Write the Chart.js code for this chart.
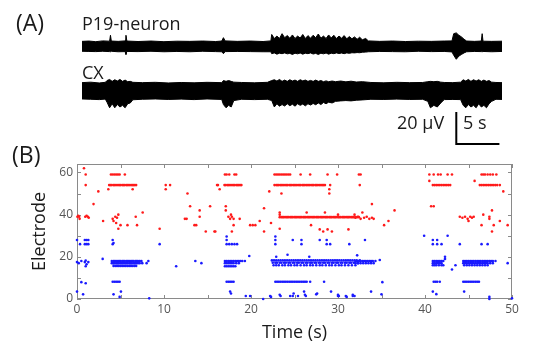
<!DOCTYPE html>
<html>
<head>
<meta charset="utf-8">
<script src="https://cdn.jsdelivr.net/npm/chart.js@4.4.0/dist/chart.umd.min.js"></script>
<style>
  body { margin: 0; background: #fff; }
  #wrap { position: relative; width: 536px; height: 360px; overflow: hidden; font-family: "Open Sans", "Liberation Sans", sans-serif; }
  canvas { position: absolute; }
  .lbl { position: absolute; color: #1a1a1a; white-space: nowrap; line-height: 1; }
</style>
</head>
<body>
<div id="wrap">
  <canvas id="raster" width="536" height="360" style="left:0;top:0;width:536px;height:360px"></canvas>
  <canvas id="traces" width="420" height="130" style="left:82px;top:20px;width:420px;height:130px"></canvas>
  <div class="lbl" style="left:16px;top:11px;font-size:23px">(A)</div>
  <div class="lbl" style="left:12px;top:143px;font-size:23px">(B)</div>
  <div class="lbl" style="left:82px;top:14px;font-size:18px">P19-neuron</div>
  <div class="lbl" style="left:82px;top:63px;font-size:18px">CX</div>
  <div class="lbl" style="left:397px;top:113px;font-size:18px">20 µV</div>
  <div class="lbl" style="left:463px;top:113px;font-size:18px">5 s</div>
</div>
<script>
// ---- panel A: trace envelopes, [time s, up µV, down µV] ----
var p19Trace = [
  [0,3.2,3.0],[0.8,3.4,3.1],[1.6,3.0,3.2],[2.4,3.5,3.0],[3.2,3.3,3.2],[3.3,7.0,3.3],[3.4,3.4,3.0],
  [4.2,3.2,3.3],[5.0,3.5,3.2],[5.1,7.0,5.0],[5.2,3.4,3.1],[6.5,3.1,3.2],[8,3.4,3.0],[9.5,3.0,3.3],
  [11,3.3,3.1],[12.5,3.2,3.3],[14,3.4,3.0],[15.5,3.1,3.2],[16.2,3.4,3.3],[16.4,5.5,4.5],[16.6,3.5,3.2],
  [18,3.2,3.1],[19.5,3.4,3.2],[21,3.1,3.3],[21.9,3.5,3.3],
  [22.0,7.5,4.5],[22.3,5.0,4.0],[22.6,6.5,4.8],[22.9,5.0,4.2],[23.2,8.0,4.5],[23.5,5.5,4.0],[23.8,6.8,4.6],
  [24.1,5.2,4.3],[24.4,7.2,5.0],[24.7,5.0,4.2],[25.0,6.5,4.6],[25.3,5.3,4.1],[25.6,7.5,4.8],[25.9,5.0,4.2],
  [26.2,6.8,4.5],[26.5,5.2,4.0],[26.8,7.0,4.7],[27.1,5.5,4.3],[27.4,7.8,5.0],[27.7,5.2,4.2],[28.0,6.5,4.6],
  [28.3,5.0,4.1],[28.6,7.2,4.8],[28.9,5.3,4.2],[29.2,7.0,4.5],[29.5,5.0,4.0],[29.8,6.5,4.4],[30.1,5.2,4.1],
  [30.4,6.8,4.5],[30.7,4.8,4.0],[31.0,6.2,4.3],[31.3,4.8,3.9],[31.6,6.0,4.0],[31.9,4.5,3.8],[32.2,5.8,3.9],
  [32.5,4.2,3.6],[32.9,5.0,3.5],[33.2,3.5,3.3],
  [34.5,3.2,3.1],[36,3.4,3.2],[37.5,3.1,3.3],[39,3.3,3.0],[40.5,3.2,3.2],[42,3.4,3.1],[42.9,3.5,3.4],
  [43.1,8.0,5.5],[43.4,8.5,8.0],[43.7,7.0,6.0],[44.0,6.0,5.0],[44.3,4.5,4.0],[44.6,3.4,3.3],[45.5,3.2,3.1],
  [46.3,3.4,3.2],[46.4,8.0,3.3],[46.5,3.3,3.1],[47.5,3.2,3.3],[48.7,3.3,3.1]
];
var cxTrace = [
  [0,5.2,5.0],[1,5.5,5.2],[2,5.0,5.4],[2.7,5.4,5.1],[2.9,6.5,7.0],[3.2,7.2,10.5],[3.5,6.0,8.0],[3.8,7.0,10.5],
  [4.1,6.2,8.5],[4.4,7.2,10.0],[4.7,6.0,9.0],[5.0,6.8,10.5],[5.3,5.8,8.0],[5.6,6.0,7.5],[5.9,5.4,5.5],
  [7,5.2,5.2],[8.5,5.4,5.0],[10,5.0,5.3],[11.5,5.3,5.1],[13,5.1,5.4],[14.5,5.4,5.0],[16.2,5.2,5.3],
  [16.4,6.5,8.5],[16.7,6.0,10.5],[17.0,6.5,9.0],[17.3,6.0,10.0],[17.6,5.5,6.0],[18.5,5.3,5.2],[20,5.1,5.4],
  [21.5,5.4,5.2],[22.0,6.5,6.0],[22.3,7.0,10.0],[22.6,6.2,8.0],[22.9,7.2,9.5],[23.2,6.0,8.5],[23.5,6.8,9.4],
  [23.8,6.0,8.0],[24.1,7.0,9.2],[24.4,6.2,8.3],[24.7,6.8,9.5],[25.0,6.0,8.0],[25.3,7.0,9.0],[25.6,6.3,8.2],
  [25.9,6.8,9.3],[26.2,6.0,8.0],[26.5,6.6,8.8],[26.8,6.0,7.8],[27.1,6.8,8.6],[27.4,6.0,7.5],[27.7,6.5,8.5],
  [28.0,5.8,7.2],[28.3,6.3,8.0],[28.6,5.8,7.0],[29.0,6.2,7.5],[29.4,5.8,6.5],[30,6.2,6.2],[30.6,5.7,6.0],
  [31.2,6.1,6.2],[31.8,5.6,5.8],[32.5,5.8,5.6],[33.5,5.3,5.2],[35,5.1,5.3],[36.5,5.4,5.1],[38,5.2,5.3],
  [39.5,5.3,5.2],[40.1,5.8,6.5],[40.4,6.0,10.5],[40.8,5.8,9.0],[41.2,6.0,10.0],[41.6,5.5,7.5],[42.0,5.3,5.4],
  [43,5.2,5.3],[43.9,5.5,5.4],[44.2,7.0,9.0],[44.5,6.2,10.5],[44.8,7.2,8.5],[45.1,6.0,10.0],[45.4,7.0,9.0],
  [45.7,6.2,10.5],[46.0,7.0,8.0],[46.3,6.0,10.0],[46.6,6.8,9.0],[46.9,6.0,10.5],[47.2,6.5,8.0],[47.5,5.5,6.5],
  [48.0,5.3,5.2],[48.7,5.2,5.3]
];
var scaleBarSec = 5;
var scaleBarMicroV = 20;

// ---- panel B: raster, [time s, electrode] ----
var redDots = [
  [0.8,62],[1.0,59],[1.0,54],[1.9,45],[2.45,51],[0.05,39],[0.15,39.5],[0.25,39],[0.3,38],[0.95,39],[1.1,39.5],
  [1.25,39],[1.35,38.5],[3.0,37],[3.9,59],[4.1,59],[4.3,59],[4.5,59],[4.7,59],[4.9,59],[5.5,59],[3.6,52],[6.4,52],
  [4.1,38],[4.2,37],[4.4,39],[4.6,38.5],[4.75,40],[4.5,36],[4.75,33.3],[5.0,35],[5.8,35],[6.75,39],[6.9,35],
  [7.55,41],[9.5,33.3],[10.2,54],[10.7,54],[10.2,52],[12.7,50],[12.4,38],[12.6,38],[13.0,44],[13.5,35],[13.7,35],
  [14.1,42],[14.1,39],[14.8,32],[15.3,44],[15.8,32],[16.2,54],
  [17.0,59],[17.2,59],[17.5,59],[18.1,59],[18.3,59],[16.1,54],[16.4,52],[17.1,44],[17.1,42],[17.4,39],[17.6,38],
  [17.8,39],[18.0,38],[17.7,40],[18.7,38],[18.0,35],[15.9,32],[17.8,32],[19.9,35],[20.2,35],[20.5,35],[21.0,37],
  [21.5,43],[21.5,32],[22.1,51],[22.3,36],[22.7,59],[22.9,59],[23.1,59],[23.3,59],[23.5,59],[23.7,59],[23.9,59],
  [24.1,59],[24.3,59],[24.5,59],[25.7,59],[26.8,59],[28.8,59],[29.9,59],[23.5,50],[29.0,52],[29.0,50],[26.4,41],
  [28.5,41],[30.0,40],[31.9,40],[23.3,40],[23.3,41],[23.3,33.3],[26.9,35],[27.9,33],[28.3,32],[28.8,33],[29.3,32],
  [31.2,33],
  [32.4,59],[32.6,59],[32.5,54],[33.9,45],[32.0,38.5],[32.3,39],[32.6,38],[32.8,41],[33.0,38.5],[33.3,39],[33.6,38],
  [33.9,38.5],[34.1,38],[35.3,35],[35.8,37],[36.5,42],[40.7,44],[41.0,44],[40.5,59],[41.0,59],[41.5,59],[41.8,59],
  [42.6,59],[43.1,59],[40.5,56],[44.0,39],[44.3,38.5],[44.6,39],[44.9,38],[45.2,39],[45.4,38.5],[45.6,39],[45.0,37],
  [46.5,59],[46.7,59],[46.9,59],[47.2,59],[47.5,59],[47.8,59],[48.2,59],[45.7,56],[49.0,51],[46.7,40],[47.4,39],
  [47.4,38],[47.7,42],[46.5,35],[47.9,35],[48.6,37],[47.7,32],[49.5,35]
];
// dense rows: [electrode, times]
var redRows = [
  [54, [3.7,3.85,4.0,4.2,4.35,4.5,4.7,4.85,5.0,5.2,5.35,5.5,5.7,5.85,6.0,6.2,6.35,6.5,6.65,6.8]],
  [54, [16.95,17.1,17.3,17.45,17.6,17.8,17.95,18.1,18.3,18.45,18.6,18.75,18.9]],
  [54, [22.7,22.9,23.05,23.2,23.4,23.55,23.7,23.9,24.05,24.2,24.4,24.55,24.7,24.9,25.05,25.2,25.4,25.55,25.7,
        25.9,26.05,26.2,26.4,26.55,26.7,26.9,27.05,27.2,27.4,27.55,27.7,27.9,28.05,28.2,28.35,28.5,29.1]],
  [38.8, [23.3,23.5,23.65,23.8,24.0,24.15,24.3,24.5,24.65,24.8,25.0,25.15,25.3,25.5,25.65,25.8,26.0,26.15,26.3,
          26.5,26.65,26.8,27.0,27.15,27.3,27.5,27.65,27.8,28.0,28.15,28.3,28.5,28.65,28.8,29.0,29.15,29.3,29.5,
          29.65,29.8,30.0,30.15,30.3,30.5,30.65,30.8,31.0,31.15,31.3,31.5,31.65,31.8,32.0,32.2,32.4]],
  [54, [40.9,41.1,41.3,41.5,41.7,41.9,42.1,42.3,42.5,42.7,42.9]],
  [54, [46.3,46.5,46.7,46.9,47.1,47.3,47.5,47.7,47.9,48.1,48.3,48.6]]
];
var blueDots = [
  [0,28],[0.35,26],[0.9,28],[1.1,28],[1.3,28],[0.9,26],[1.1,26],[1.3,26],[4.1,28],[4.1,26],[4.2,26.5],[9.5,26],
  [2.95,19],[0,17.5],[0.2,17],[0.5,18],[0.9,17.5],[1.0,18.2],[1.1,16.5],[1.3,17.5],[1.0,15.5],[8.2,18],[8.0,17],
  [11.4,15.5],[13.6,18],[14.3,17],[0.5,8],[1.0,7.5],[4.1,8.2],[4.3,8.2],[4.5,8.2],[4.7,8.2],[4.9,8.2],[0,3.5],
  [0.7,2.2],[4.2,2.2],[4.9,1],[5.05,3.5],[8.3,0.3],
  [17.2,29.6],[17.2,28],[17.2,26],[17.5,26],[17.8,26],[18.1,26],[18.4,26],[19.8,20.4],[17.6,3.5],[17.7,2.6],
  [19.4,1.4],[19.9,1.4],[21.4,0],[22.2,1.4],[22.3,1],[23.4,1.4],[24.5,1.4],[24.8,1.4],[25.4,1.4],[26.1,3.5],
  [26.2,2],[26.3,1.4],[27.5,2.2],[29.2,3.5],[30.0,1.4],[30.1,1.4],[30.9,1.4],[31.7,1.4],[31.9,1.4],[33.8,3.5],
  [35.0,2.2],[22.8,29.6],[22.8,28],[22.8,26],[22.9,20],[24.2,21],[26.7,20],[24.8,28],[25.8,28],[25.8,26],[27.9,28],
  [28.7,28],[28.7,26],[29.1,26],[31.3,26],[28.4,8.2],[23.3,2],[24.9,2.6],[27.6,2.6],[30.0,2],[31.0,1],[31.7,2],
  [33.1,28],[32.2,20.7],[32.3,17],[34.8,18.5],[35.1,8],[39.9,30],[40.9,28],[40.9,26],[41.4,28],[41.4,26],[41.9,26],
  [42.6,30],[44.0,26],[46.5,26],[47.2,26],[42.3,20],[42.3,19],[43.1,14],[43.5,16],[49.5,17],[40.9,3.5],[41.3,2.3],
  [44.5,3.5],[47.4,1],[47.4,0],[50,0.3]
];
var blueRows = [
  [18, [4.0,4.2,4.35,4.5,4.7,4.85,5.0,5.2,5.35,5.5,5.7,5.85,6.0,6.2,6.35,6.5,6.7,6.85,7.0,7.2,7.4]],
  [17, [4.0,4.15,4.3,4.5,4.65,4.8,5.0,5.15,5.3,5.5,5.65,5.8,6.0,6.15,6.3,6.5,6.65,6.8,7.0,7.2,7.5]],
  [15.7, [4.2,4.4,4.6,4.8,5.0,5.2,5.4,5.6,5.8,6.0,6.2,6.4,6.6,6.8]],
  [18, [17.0,17.2,17.4,17.6,17.8,18.0,18.2,18.4,18.6,18.8,19.0,19.3]],
  [17, [17.0,17.2,17.4,17.6,17.8,18.0,18.3,18.6]],
  [15.5, [17.0,17.2,17.4,17.6,17.8,18.0,18.2]],
  [18.3, [22.4,22.65,22.9,23.15,23.4,23.65,23.9,24.15,24.4,24.65,24.9,25.15,25.4,25.65,25.9,26.15,26.4,26.65,
          26.9,27.15,27.4,27.65,27.9,28.15,28.4,28.65,28.9,29.15,29.4,29.65,29.9,30.15,30.4,30.65,30.9,31.15,
          31.4,31.65,31.9,32.15,32.5]],
  [17.2, [22.5,22.8,23.0,23.3,23.5,23.8,24.0,24.3,24.5,24.8,25.0,25.3,25.5,25.8,26.0,26.3,26.5,26.8,27.0,27.3,
          27.5,27.8,28.0,28.3,28.5,28.8,29.0,29.3,29.5,29.8,30.0,30.3,30.5,30.8,31.0,31.3,31.5,31.8,32.0,32.3]],
  [16, [22.6,22.9,23.2,23.6,23.9,24.3,24.6,25.0,25.3,25.7,26.1,26.4,26.8,27.1,27.5,27.9,28.2,28.6,29.0,29.3,
        29.7,30.1,30.4,30.8,31.2,31.6,32.0]],
  [18, [32.0,32.2,32.4,32.6,32.8,33.0,33.2,33.4,33.6,33.8,34.0,34.3]],
  [17, [32.0,32.3,32.6,32.9,33.2,33.5,33.8,34.1]],
  [18, [40.9,41.1,41.3,41.5,41.7,41.9,42.1]],
  [17, [40.9,41.1,41.3,41.5,41.7,41.9]],
  [16, [40.9,41.1,41.3,41.6,41.9,42.1]],
  [18, [44.4,44.6,44.8,45.0,45.2,45.4,45.6,45.8,46.0,46.2,46.4,46.6,46.8,47.0,47.2,47.4,47.6,47.8,48.1]],
  [17, [44.4,44.6,44.8,45.0,45.2,45.4,45.6,45.8,46.0,46.2,46.4,46.6,46.8,47.0,47.2,47.5,47.8]],
  [16, [44.5,44.8,45.1,45.4,45.7,46.0,46.3,46.6,46.9,47.2]],
  [8.2, [17.2,17.4,17.6,17.8,18.0]],
  [8.2, [22.8,23.0,23.2,23.4,23.6,23.8,24.0,24.2,24.4,24.6,24.8,25.0,25.2,25.4,25.6,25.8,26.0,26.2,26.4,26.8]],
  [8.2, [41.0,41.2,41.4,41.7]],
  [8.2, [44.4,44.6,44.8,45.0,45.2,45.4,45.6,45.8,46.0,46.2]]
];
var xTickLabels = [0, 10, 20, 30, 40, 50];
var yTickLabels = [0, 20, 40, 60];
var xTickMarks = [0, 5, 10, 15, 20, 25, 30, 35, 40, 45, 50];
var yTickMarks = [0, 10, 20, 30, 40, 50, 60];

// ---------- panel A chart ----------
var base1 = 64.7, base2 = 36.9, barX = 43.4, barY = 3.75;
var env = (tr, base, sign) => tr.map(r => ({ x: r[0], y: base + sign * (sign > 0 ? r[1] : r[2]) }));
var lineDs = (data, fill) => ({
    data: data, borderColor: '#000', backgroundColor: '#000', borderWidth: 1,
    pointRadius: 0, tension: 0, fill: fill
});

new Chart(document.getElementById('traces'), {
    type: 'line',
    data: {
        datasets: [
            lineDs(env(p19Trace, base1, 1), false),
            lineDs(env(p19Trace, base1, -1), '-1'),
            lineDs(env(cxTrace, base2, 1), false),
            lineDs(env(cxTrace, base2, -1), '-1'),
            {
                data: [{ x: barX, y: barY + scaleBarMicroV }, { x: barX, y: barY }, { x: barX + scaleBarSec, y: barY }],
                borderColor: '#000', borderWidth: 2, pointRadius: 0, fill: false, tension: 0
            }
        ]
    },
    options: {
        responsive: false,
        animation: false,
        layout: { padding: 0 },
        scales: {
            x: { type: 'linear', min: 0, max: 48.7, display: false },
            y: { min: 0, max: 81.25, display: false }
        },
        plugins: { legend: { display: false }, tooltip: { enabled: false } }
    }
});

// ---------- panel B chart ----------
var rowsToPts = rows => rows.flatMap(r => r[1].map(t => ({ x: t, y: r[0] })));
var dotsToPts = dots => dots.map(d => ({ x: d[0], y: d[1] }));

// box with inward ticks like the original figure
const boxTicks = {
    id: 'boxTicks',
    beforeDatasetsDraw(chart) {
        const { ctx, chartArea: a, scales: { x, y } } = chart;
        ctx.save();
        ctx.strokeStyle = '#8a8a8a';
        ctx.lineWidth = 1;
        ctx.strokeRect(a.left + 0.5, a.top + 0.5, a.width - 1, a.height - 1);
        ctx.beginPath();
        xTickMarks.forEach(v => {
            const px = Math.round(x.getPixelForValue(v)) + 0.5;
            ctx.moveTo(px, a.bottom); ctx.lineTo(px, a.bottom - 4);
            ctx.moveTo(px, a.top); ctx.lineTo(px, a.top + 4);
        });
        yTickMarks.forEach(v => {
            const py = Math.round(y.getPixelForValue(v)) + 0.5;
            ctx.moveTo(a.left, py); ctx.lineTo(a.left + 4, py);
            ctx.moveTo(a.right, py); ctx.lineTo(a.right - 4, py);
        });
        ctx.stroke();
        ctx.restore();
    }
};

new Chart(document.getElementById('raster'), {
    type: 'scatter',
    plugins: [boxTicks],
    data: {
        datasets: [
            {
                data: dotsToPts(redDots).concat(rowsToPts(redRows)),
                backgroundColor: '#ff1a1a', borderWidth: 0, pointRadius: 1.3, clip: false
            },
            {
                data: dotsToPts(blueDots).concat(rowsToPts(blueRows)),
                backgroundColor: '#1a1aff', borderWidth: 0, pointRadius: 1.3, clip: false
            }
        ]
    },
    options: {
        responsive: false,
        animation: false,
        layout: { padding: { top: 164, right: 24, left: 0, bottom: 0 } },
        scales: {
            x: {
                type: 'linear', min: 0, max: 50,
                afterBuildTicks: s => { s.ticks = xTickLabels.map(v => ({ value: v })); },
                afterFit: s => { s.height = 61; },
                grid: { display: false, drawTicks: false },
                border: { display: false },
                ticks: { color: '#555', padding: 3, maxRotation: 0, autoSkip: false,
                         font: { family: 'Open Sans', size: 12 } },
                title: { display: true, text: 'Time (s)', color: '#1a1a1a',
                         font: { family: 'Open Sans', size: 18 }, padding: { top: 0, bottom: 16 } }
            },
            y: {
                min: 0, max: 64,
                afterBuildTicks: s => { s.ticks = yTickLabels.map(v => ({ value: v })); },
                afterFit: s => { s.width = 77; },
                grid: { display: false, drawTicks: false },
                border: { display: false },
                ticks: { color: '#555', padding: 4, autoSkip: false,
                         font: { family: 'Open Sans', size: 12 } },
                title: { display: true, text: 'Electrode', color: '#1a1a1a',
                         font: { family: 'Open Sans', size: 18 }, padding: { top: 29, bottom: 0 } }
            }
        },
        plugins: { legend: { display: false }, tooltip: { enabled: false } }
    }
});
</script>
</body>
</html>
